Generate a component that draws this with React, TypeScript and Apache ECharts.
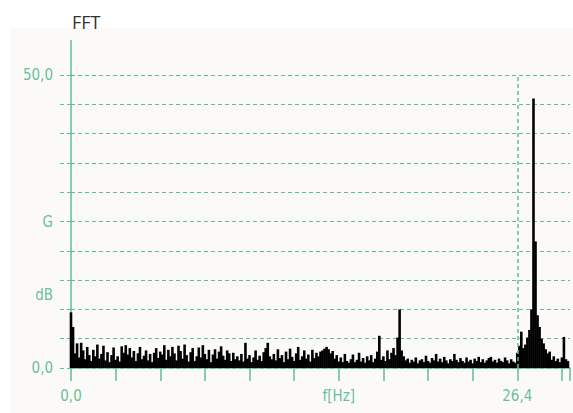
import React, { useEffect, useRef } from "react";
import * as echarts from "echarts";

// Frequency bin spacing (Hz) and amplitude per bin
const BIN_STEP = 0.12;
const amplitudes: number[] = [
  9.5, 7.0, 2.5, 4.2, 1.8, 4.3, 3.0, 1.5, 3.6, 2.2,
  1.2, 3.1, 2.0, 4.0, 1.6, 2.4, 3.8, 1.3, 2.7, 1.0,
  2.2, 3.5, 1.4, 2.0, 1.1, 3.7, 2.6, 3.9, 2.3, 3.4,
  1.8, 2.9, 1.2, 2.5, 3.6, 1.5, 2.1, 3.0, 1.3, 2.4,
  1.0, 2.6, 3.4, 1.7, 2.8, 2.3, 3.9, 1.4, 3.1, 2.0,
  3.6, 2.5, 1.3, 3.8, 2.9, 1.6, 4.0, 2.2, 1.1, 2.7,
  3.4, 1.2, 2.0, 3.5, 1.8, 3.9, 2.4, 1.5, 3.1, 1.0,
  2.3, 3.2, 1.6, 2.8, 3.7, 2.1, 1.4, 3.0, 2.5, 1.2,
  2.6, 1.5, 2.0, 1.3, 2.4, 1.1, 4.3, 1.6, 2.2, 1.0,
  1.8, 3.0, 1.4, 2.1, 1.2, 2.7, 3.4, 4.3, 2.0, 1.5,
  2.4, 1.3, 3.2, 1.7, 2.2, 1.0, 2.8, 1.5, 3.3, 1.9,
  1.2, 2.5, 3.6, 1.4, 2.0, 3.0, 1.6, 2.3, 1.1, 3.1,
  1.7, 2.6, 2.0, 2.8, 3.0, 3.3, 3.6, 3.2, 2.5, 2.9,
  1.6, 2.2, 1.1, 1.8, 1.0, 2.4, 1.2, 0.9, 1.5, 2.3,
  1.0, 1.4, 2.6, 1.1, 1.7, 0.9, 2.0, 1.3, 2.2, 1.0,
  1.6, 2.8, 5.5, 1.4, 2.0, 1.2, 3.0, 1.5, 2.6, 3.4,
  2.2, 5.2, 10.0, 3.0, 2.0, 1.3, 1.6, 0.9, 1.4, 1.1,
  1.8, 0.8, 1.3, 1.5, 1.0, 2.1, 1.2, 0.9, 1.7, 1.3,
  2.4, 1.1, 1.6, 1.0, 1.9, 1.3, 0.8, 1.5, 1.2, 2.4,
  1.4, 1.0, 1.7, 1.2, 0.9, 1.8, 1.1, 1.4, 0.8, 1.6,
  1.2, 1.9, 1.0, 1.5, 0.9, 1.3, 1.7, 1.9, 1.1, 1.4,
  0.9, 1.6, 1.2, 1.0, 1.8, 1.3, 0.8, 1.5, 1.1, 0.9,
  2.6, 3.8, 6.2, 3.4, 4.0, 5.2, 6.5, 10.0, 46.0, 21.6,
  9.0, 7.0, 5.0, 4.2, 3.2, 2.5, 2.8, 1.4, 2.0, 1.2,
  1.6, 1.0, 1.8, 5.3, 1.5, 1.2,
];

// Axis definitions
const X_TICK_STEP = 2.64;
const X_MAX = 29.52;
const X_LABELS: Record<number, string> = { 0: "0,0", 6: "f[Hz]", 10: "26,4" };
const Y_MAX = 50;
const Y_GRID_STEP = 5;
const Y_LABEL_STEP = 2.5;
const Y_LABELS: Record<string, string> = { "0": "0,0", "12.5": "dB", "25": "G", "50": "50,0" };
const MARKER_FREQ = 26.4;

const GREEN = "#5dbf95";
const GREEN_TEXT = "#6bbf99";
const LABEL_FONT = '"DejaVu Sans Condensed", "Liberation Sans Narrow", "Roboto Condensed", "DejaVu Sans", sans-serif';

export default function App() {
  const ref = useRef<HTMLDivElement>(null);
  useEffect(() => {
    if (!ref.current) return;
    const chart = echarts.init(ref.current, undefined, { renderer: "svg" });
    const gridLeft = 71;
    const gridTop = 75;
    chart.setOption({
      animation: false,
      backgroundColor: "#ffffff",
      title: {
        text: "FFT",
        left: 67,
        top: 8,
        textStyle: { fontSize: 18, fontWeight: "normal", color: "#333", fontFamily: '"Open Sans", "Noto Sans", sans-serif' },
      },
      graphic: [
        { type: "rect", z: -10, shape: { x: 10, y: 28, width: 600, height: 420 }, style: { fill: "#fbfaf8" } },
        { type: "line", z: 5, shape: { x1: gridLeft, y1: 40, x2: gridLeft, y2: gridTop }, style: { stroke: GREEN, lineWidth: 1.5 } },
      ],
      grid: { left: gridLeft, right: 0, top: gridTop, bottom: 45, containLabel: false },
      xAxis: {
        type: "value",
        min: 0,
        max: X_MAX,
        interval: X_TICK_STEP,
        axisLine: { show: true, lineStyle: { color: GREEN, width: 1.5 } },
        axisTick: { show: true, length: 13, lineStyle: { color: GREEN, width: 1.5 } },
        splitLine: { show: false },
        axisLabel: {
          margin: 20,
          color: GREEN_TEXT,
          fontSize: 15,
          fontFamily: LABEL_FONT,
          formatter: (v: number) => {
            const k = Math.round(v / X_TICK_STEP);
            if (Math.abs(v - k * X_TICK_STEP) > 1e-6) return "";
            return X_LABELS[k] ?? "";
          },
        },
      },
      yAxis: [
        {
          type: "value",
          min: 0,
          max: Y_MAX,
          interval: Y_GRID_STEP,
          axisLine: { show: true, lineStyle: { color: GREEN, width: 1.5 } },
          axisTick: { show: true, length: 13, lineStyle: { color: GREEN, width: 1, type: [4, 3] } },
          splitLine: { show: true, lineStyle: { color: GREEN, width: 1, type: [4, 3] } },
          axisLabel: { show: false },
        },
        {
          type: "value",
          position: "left",
          min: 0,
          max: Y_MAX,
          interval: Y_LABEL_STEP,
          axisLine: { show: false },
          axisTick: { show: false },
          splitLine: { show: false },
          axisLabel: {
            margin: 18,
            color: GREEN_TEXT,
            fontSize: 15,
            fontFamily: LABEL_FONT,
            formatter: (v: number) => Y_LABELS[String(v)] ?? "",
          },
        },
      ],
      series: [
        {
          type: "bar",
          yAxisIndex: 0,
          barWidth: 2.6,
          barGap: "-100%",
          itemStyle: { color: "#000" },
          data: amplitudes.map((a, i) => [+(i * BIN_STEP).toFixed(2), a]),
          markLine: {
            silent: true,
            symbol: "none",
            label: { show: false },
            lineStyle: { color: GREEN, width: 1.5, type: [4, 3] },
            data: [{ xAxis: MARKER_FREQ }],
          },
        },
      ],
    });
    return () => chart.dispose();
  }, []);
  return <div ref={ref} style={{ position: "absolute", left: 0, top: 0, width: 573, height: 413 }} />;
}
